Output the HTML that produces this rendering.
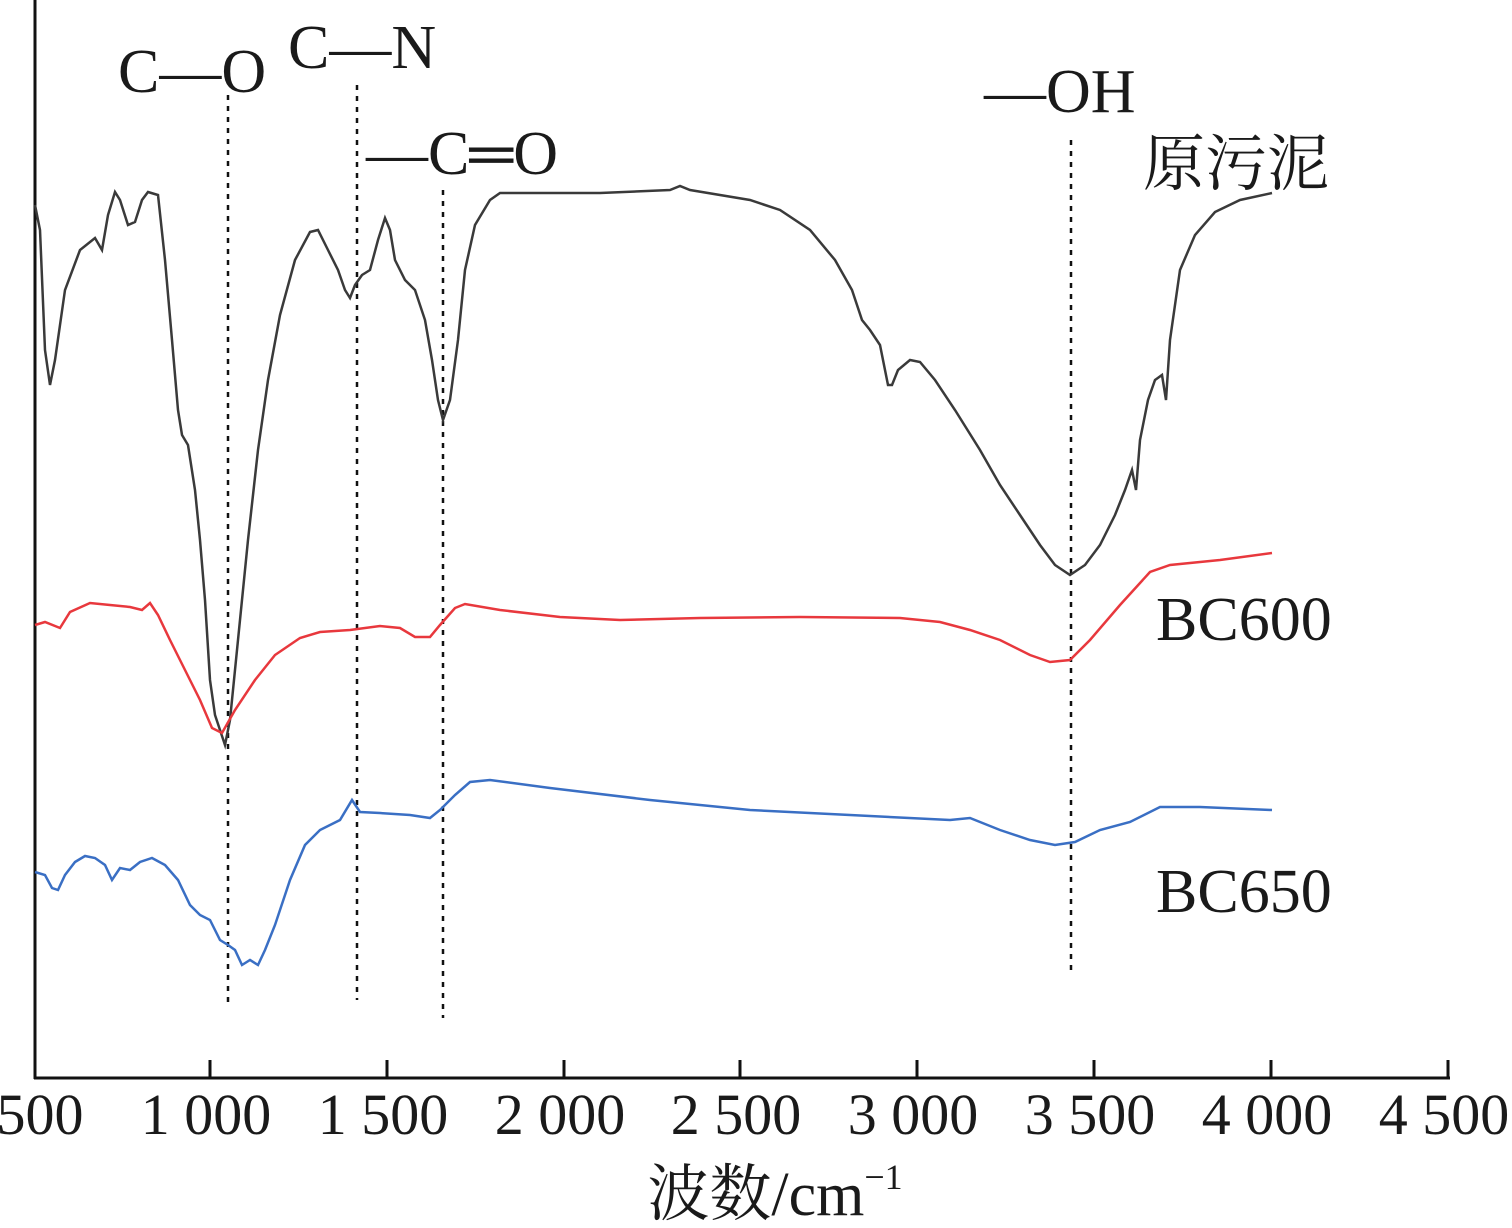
<!DOCTYPE html>
<html><head><meta charset="utf-8"><style>
html,body{margin:0;padding:0;background:#fff;}
svg{display:block;}
text{font-family:"Liberation Serif","Noto Serif CJK SC",serif;fill:#1a1a1a;}
</style></head><body>
<svg width="1512" height="1228" viewBox="0 0 1512 1228" xmlns="http://www.w3.org/2000/svg">
<g stroke="#111" stroke-width="3" fill="none">
<line x1="35" y1="0" x2="35" y2="1079"/>
<line x1="34" y1="1078" x2="1450" y2="1078"/>
<line x1="210" y1="1060" x2="210" y2="1078"/>
<line x1="387" y1="1060" x2="387" y2="1078"/>
<line x1="564" y1="1060" x2="564" y2="1078"/>
<line x1="740" y1="1060" x2="740" y2="1078"/>
<line x1="917" y1="1060" x2="917" y2="1078"/>
<line x1="1094" y1="1060" x2="1094" y2="1078"/>
<line x1="1271" y1="1060" x2="1271" y2="1078"/>
<line x1="1448" y1="1060" x2="1448" y2="1078"/>
</g>
<g stroke="#111" stroke-width="2.5" stroke-dasharray="5,6" fill="none">
<line x1="228" y1="95" x2="228" y2="1005"/>
<line x1="357" y1="85" x2="357" y2="1000"/>
<line x1="443" y1="190" x2="443" y2="1018"/>
<line x1="1071" y1="140" x2="1071" y2="975"/>
</g>
<polyline fill="none" stroke="#3a3a3a" stroke-width="2.5" points="35,205 40,230 45,350 50,385 55,360 65,290 80,250 95,238 102,250 108,215 115,192 120,200 128,225 135,222 142,200 148,192 158,195 165,260 172,340 178,410 182,435 188,445 195,490 200,540 205,600 210,680 215,715 220,730 225,745 230,720 238,640 248,540 258,450 268,380 280,315 295,260 310,232 318,230 328,250 338,270 345,290 350,298 355,285 362,275 370,270 378,240 385,218 390,230 395,260 405,280 415,290 425,320 432,360 438,400 443,420 450,400 458,340 465,270 475,225 490,200 500,193 600,193 670,190 680,186 690,190 750,200 780,210 810,230 835,260 852,290 862,320 870,330 880,345 888,385 892,385 898,370 910,360 920,362 935,380 955,410 980,450 1000,485 1020,515 1040,545 1055,565 1070,575 1085,565 1100,545 1115,515 1125,490 1132,470 1136,490 1140,440 1148,400 1155,380 1162,375 1166,400 1170,340 1180,270 1195,235 1215,212 1240,200 1272,193"/>
<polyline fill="none" stroke="#e8383d" stroke-width="2.5" points="35,625 45,622 60,628 70,612 90,603 110,605 130,607 142,610 150,603 158,615 170,640 185,670 200,700 212,728 222,733 235,710 255,680 275,655 300,638 320,632 350,630 380,626 400,628 415,637 430,637 440,625 455,608 465,604 500,610 560,617 620,620 700,618 800,617 900,618 940,622 970,630 1000,640 1030,655 1050,662 1070,660 1090,640 1120,605 1150,572 1170,565 1220,560 1272,553"/>
<polyline fill="none" stroke="#3a6fc4" stroke-width="2.5" points="35,872 45,875 52,888 58,890 65,875 75,862 85,856 95,858 105,865 112,880 120,868 130,870 140,862 152,858 165,865 178,880 190,905 200,915 210,920 220,940 228,945 235,950 242,965 250,960 258,965 265,950 275,925 290,880 305,845 320,830 340,820 352,800 360,812 380,813 410,815 430,818 440,810 455,795 470,782 490,780 550,788 650,800 750,810 850,815 950,820 970,818 1000,830 1030,840 1055,845 1075,842 1100,830 1130,822 1160,807 1200,807 1272,810"/>
<g font-size="58" text-anchor="middle">
<text x="40" y="1134">500</text>
<text x="206" y="1134">1 000</text>
<text x="383" y="1134">1 500</text>
<text x="560" y="1134">2 000</text>
<text x="736" y="1134">2 500</text>
<text x="913" y="1134">3 000</text>
<text x="1090" y="1134">3 500</text>
<text x="1267" y="1134">4 000</text>
<text x="1444" y="1134">4 500</text>
<text x="775" y="1215" font-size="62">波数/cm<tspan font-size="36" dy="-26">−1</tspan></text>
</g>
<g font-size="62">
<text x="118" y="92">C—O</text>
<text x="288" y="68">C—N</text>
<text x="366" y="174">—C═O</text>
<text x="984" y="112">—OH</text>
<text x="1143" y="185">原污泥</text>
<text x="1156" y="640">BC600</text>
<text x="1156" y="912">BC650</text>
</g>
</svg>
</body></html>
